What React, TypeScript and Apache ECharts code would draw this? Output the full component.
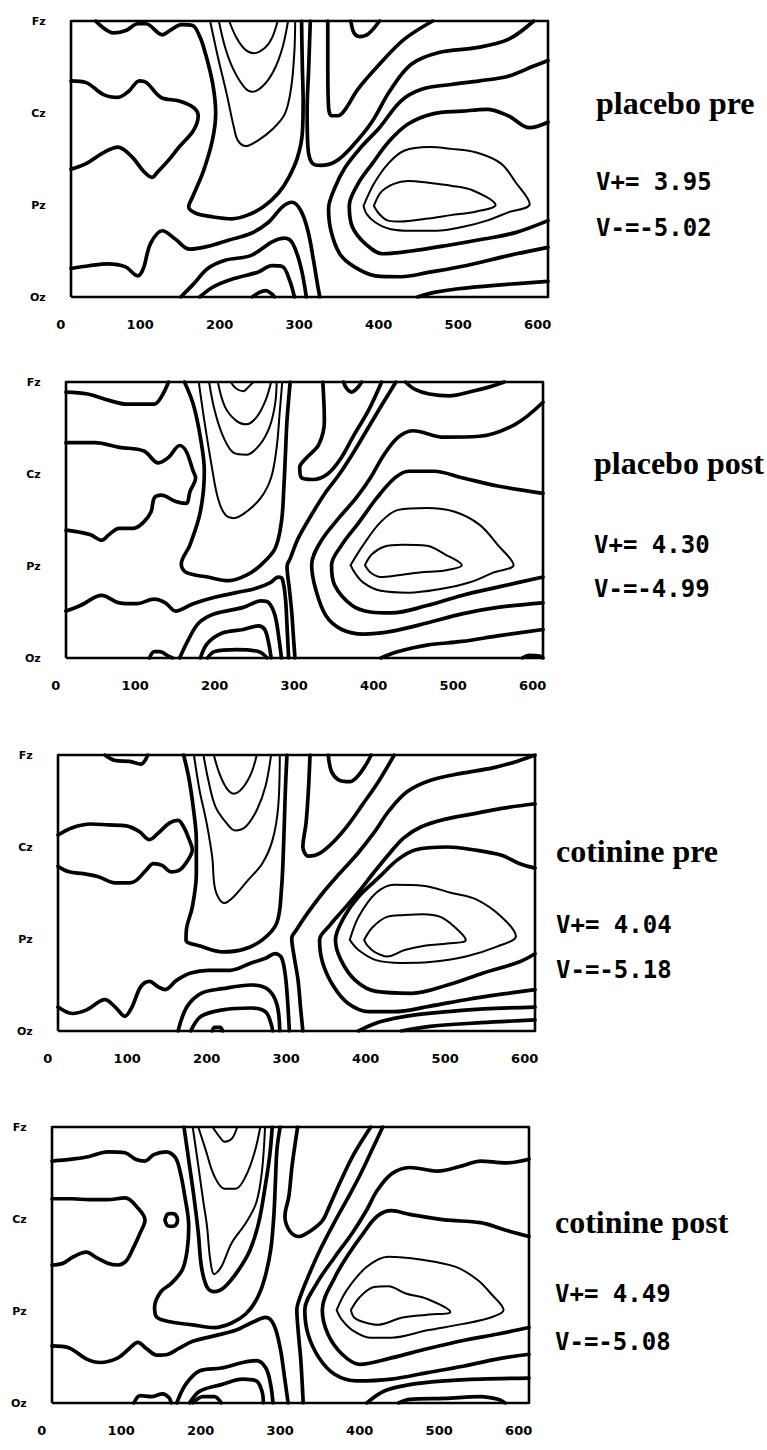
import React, { useEffect, useRef } from "react";
import * as echarts from "echarts";

type Pt = [number, number];

// ---- axes / labels ----
const X_TICKS = [0, 100, 200, 300, 400, 500, 600];
const ELECTRODES = ["Oz", "Pz", "Cz", "Fz"];
const EPOCH: [number, number] = [13, 613]; // ms covered by the map
const CONDITIONS = ["placebo pre", "placebo post", "cotinine pre", "cotinine post"];
const V_PLUS = [3.95, 4.3, 4.04, 4.49];
const V_MINUS = [-5.02, -4.99, -5.18, -5.08];

// ---- contour lines: [ms, electrode position (Oz=0 .. Fz=3)] ----
const placeboPreThick: Pt[][] = [
  [[44,3],[67,2.87],[83,2.9],[97,2.97],[107,2.97],[128,2.85],[138,2.9],[152,2.96],[166,2.95],[175,2.83],[181,2.68],[191,2.33],[195,2.0],[191,1.71],[180,1.38],[166,1.09],[161,0.98],[170,0.91],[192,0.87],[215,0.85],[235,0.89],[255,0.98],[274,1.13],[287,1.3],[298,1.52],[304,1.78],[305,2.14],[304,2.5],[303,3]],
  [[314,3],[312,2.49],[310,2.02],[311,1.63],[316,1.46],[327,1.43],[347,1.48],[369,1.66],[392,1.91],[414,2.24],[441,2.53],[477,2.66],[523,2.71],[563,2.8],[595,3]],
  [[336,3],[336,2.49],[337,2.06],[341,1.97],[349,1.97],[358,2.04],[374,2.26],[401,2.53],[432,2.8],[468,3]],
  [[365,3],[369,2.87],[376,2.83],[387,2.86],[401,3]],
  [[613,2.57],[595,2.51],[563,2.4],[527,2.35],[491,2.31],[455,2.26],[428,2.13],[401,1.84],[378,1.63],[358,1.41],[345,1.19],[337,0.96],[340,0.72],[351,0.47],[369,0.33],[396,0.23],[428,0.22],[464,0.27],[509,0.34],[563,0.45],[613,0.54]],
  [[613,1.9],[590,1.84],[563,1.97],[536,2.04],[505,2.02],[468,1.99],[437,1.88],[414,1.7],[392,1.45],[374,1.23],[363,0.99],[367,0.76],[383,0.58],[405,0.47],[441,0.5],[486,0.56],[532,0.63],[572,0.7],[613,0.83]],
  [[449,0],[470,0.05],[500,0.09],[550,0.13],[613,0.17]],
  [[13,2.35],[32,2.33],[54,2.2],[72,2.17],[86,2.24],[99,2.35],[108,2.33],[126,2.17],[149,2.13],[167,2.06],[173,1.97],[167,1.81],[149,1.63],[135,1.48],[122,1.36],[115,1.3],[104,1.37],[90,1.52],[72,1.63],[54,1.57],[32,1.45],[13,1.39]],
  [[13,0.31],[36,0.34],[59,0.36],[81,0.33],[97,0.23],[104,0.31],[113,0.58],[128,0.72],[144,0.63],[162,0.52],[185,0.55],[212,0.62],[239,0.69],[261,0.81],[279,0.98],[291,1.03],[302,0.94],[311,0.72],[318,0.4],[323,0.14],[326,0]],
  [[151,0],[167,0.14],[185,0.31],[207,0.4],[239,0.45],[266,0.6],[282,0.64],[292,0.58],[302,0.33],[309,0]],
  [[175,0],[192,0.11],[218,0.2],[248,0.27],[266,0.34],[279,0.33],[288,0.18],[294,0]],
  [[241,0],[250,0.05],[258,0.07],[266,0.03],[269,0]],
];
const placeboPreThin: Pt[][] = [
  [[212,3],[221,2.82],[232,2.69],[243,2.65],[257,2.71],[266,2.82],[273,3]],
  [[199,3],[207,2.71],[218,2.46],[232,2.27],[241,2.23],[254,2.29],[268,2.46],[279,2.71],[286,3]],
  [[188,3],[198,2.6],[209,2.2],[218,1.84],[223,1.7],[233,1.64],[248,1.7],[266,1.82],[282,1.99],[290,2.28],[294,2.67],[295,3]],
  [[381,0.99],[394,1.23],[412,1.45],[432,1.59],[464,1.63],[491,1.61],[523,1.57],[554,1.45],[572,1.25],[590,1.01],[563,0.92],[536,0.83],[505,0.76],[473,0.72],[441,0.72],[414,0.74],[396,0.81],[385,0.9],[381,0.99]],
  [[394,0.99],[403,1.14],[419,1.23],[437,1.26],[464,1.24],[491,1.21],[518,1.16],[547,1.0],[523,0.93],[491,0.89],[459,0.85],[428,0.82],[412,0.83],[401,0.9],[394,0.99]],
];

const placeboPostThick: Pt[][] = [
  [[13,2.89],[40,2.87],[67,2.8],[89,2.76],[124,2.76],[133,2.84],[142,3]],
  [[13,2.34],[49,2.34],[80,2.29],[111,2.25],[129,2.12],[142,2.18],[156,2.31],[164,2.25],[173,2.03],[176,1.96],[169,1.81],[164,1.68],[151,1.7],[133,1.77],[124,1.74],[120,1.59],[111,1.48],[98,1.41],[80,1.41],[67,1.34],[58,1.28],[44,1.34],[29,1.37],[13,1.39]],
  [[13,0.51],[31,0.57],[58,0.68],[80,0.6],[102,0.59],[124,0.64],[138,0.6],[151,0.51],[173,0.59],[200,0.66],[227,0.71],[253,0.76],[270,0.82],[280,0.88],[285,0.86],[289,0.65],[291,0.35],[293,0]],
  [[156,0],[167,0.2],[180,0.38],[200,0.48],[236,0.55],[258,0.62],[268,0.6],[276,0.46],[281,0.2],[284,0]],
  [[182,0],[191,0.16],[209,0.27],[236,0.31],[255,0.35],[263,0.31],[268,0.16],[271,0]],
  [[191,0],[200,0.07],[227,0.09],[255,0.07],[266,0]],
  [[118,0],[124,0.07],[131,0.07],[142,0.02],[147,0]],
  [[587,0],[596,0.03],[609,0.02],[613,0]],
  [[162,3],[173,2.76],[182,2.4],[187,2.03],[182,1.59],[169,1.23],[158,1.02],[164,0.93],[191,0.88],[218,0.84],[240,0.9],[258,1.01],[276,1.19],[284,1.48],[287,1.85],[289,2.21],[291,2.58],[295,3]],
  [[362,3],[366,2.93],[372,2.89],[379,2.93],[385,3]],
  [[336,3],[338,2.58],[331,2.32],[316,2.18],[307,2.07],[309,1.96],[324,1.94],[342,2.0],[358,2.16],[375,2.42],[394,2.7],[410,3]],
  [[428,3],[411,2.76],[393,2.5],[375,2.24],[357,2.0],[338,1.78],[320,1.53],[305,1.3],[295,1.08],[291,1.0],[294,0.75],[297,0.49],[299,0.24],[301,0]],
  [[440,3],[452,2.92],[470,2.87],[495,2.85],[524,2.9],[547,2.95],[564,3]],
  [[613,2.78],[578,2.54],[533,2.41],[489,2.4],[449,2.47],[431,2.4],[413,2.21],[396,1.96],[378,1.74],[356,1.52],[333,1.26],[322,1.01],[327,0.75],[340,0.46],[360,0.31],[387,0.26],[422,0.29],[467,0.38],[511,0.48],[556,0.55],[613,0.6]],
  [[613,1.79],[556,1.87],[511,1.96],[476,2.03],[444,2.03],[427,1.96],[404,1.74],[382,1.48],[360,1.23],[347,1.01],[351,0.79],[373,0.57],[396,0.5],[422,0.49],[467,0.57],[511,0.68],[556,0.77],[613,0.88]],
  [[409,0],[431,0.07],[467,0.14],[511,0.18],[556,0.24],[613,0.31]],
];
const placeboPostThin: Pt[][] = [
  [[180,3],[187,2.58],[196,2.1],[204,1.74],[213,1.56],[224,1.52],[240,1.59],[258,1.74],[271,1.96],[278,2.29],[282,2.69],[285,3]],
  [[193,3],[200,2.69],[211,2.4],[224,2.23],[240,2.21],[256,2.31],[269,2.51],[276,2.76],[278,3]],
  [[204,3],[213,2.73],[227,2.58],[240,2.54],[253,2.62],[264,2.8],[271,3]],
  [[220,3],[227,2.93],[236,2.9],[244,2.96],[249,3]],
  [[371,1.01],[387,1.23],[409,1.48],[431,1.61],[467,1.63],[502,1.59],[533,1.45],[556,1.23],[576,1.01],[551,0.93],[520,0.82],[484,0.75],[444,0.71],[409,0.73],[387,0.82],[376,0.93],[371,1.01]],
  [[389,1.01],[398,1.13],[413,1.21],[436,1.23],[467,1.22],[489,1.13],[511,1.01],[489,0.95],[458,0.93],[431,0.9],[409,0.88],[396,0.93],[389,1.01]],
];

const cotininePreThick: Pt[][] = [
  [[72,3],[85,2.94],[103,2.93],[117,2.9],[126,3]],
  [[13,2.13],[31,2.21],[54,2.25],[76,2.24],[99,2.23],[115,2.17],[128,2.08],[139,2.15],[153,2.26],[164,2.29],[171,2.22],[178,2.08],[182,1.97],[175,1.84],[166,1.75],[155,1.73],[144,1.8],[133,1.82],[124,1.75],[112,1.64],[103,1.61],[85,1.61],[63,1.68],[45,1.71],[27,1.73],[13,1.79]],
  [[13,0.26],[31,0.19],[49,0.23],[72,0.34],[85,0.26],[97,0.16],[106,0.26],[117,0.48],[128,0.54],[139,0.48],[148,0.45],[162,0.55],[180,0.63],[202,0.66],[229,0.66],[256,0.74],[274,0.79],[286,0.84],[294,0.8],[299,0.6],[302,0.3],[304,0]],
  [[164,0],[175,0.26],[193,0.41],[220,0.46],[256,0.5],[276,0.46],[288,0.3],[292,0]],
  [[180,0],[193,0.16],[220,0.23],[256,0.25],[274,0.21],[281,0.08],[283,0]],
  [[207,0],[210,0.04],[217,0.04],[220,0]],
  [[171,3],[178,2.73],[184,2.37],[187,2.08],[187,1.71],[182,1.35],[175,1.13],[174,0.99],[193,0.92],[220,0.86],[247,0.89],[270,0.99],[288,1.17],[294,1.53],[297,2.08],[299,2.62],[301,3]],
  [[353,3],[357,2.82],[366,2.73],[380,2.71],[391,2.78],[400,2.89],[407,3]],
  [[330,3],[328,2.62],[325,2.26],[321,2.0],[328,1.9],[342,1.93],[360,2.06],[378,2.24],[396,2.46],[416,2.71],[436,3]],
  [[613,3],[590,2.93],[560,2.86],[520,2.8],[480,2.72],[452,2.6],[430,2.4],[410,2.15],[390,1.93],[368,1.72],[346,1.5],[326,1.27],[313,1.1],[307,1.01],[310,0.81],[315,0.55],[318,0.26],[321,0]],
  [[613,2.47],[571,2.42],[535,2.36],[499,2.3],[470,2.22],[448,2.1],[430,1.93],[410,1.72],[390,1.5],[370,1.3],[355,1.15],[342,0.99],[346,0.74],[360,0.48],[378,0.3],[404,0.21],[436,0.21],[481,0.27],[526,0.34],[571,0.4],[613,0.45]],
  [[613,1.77],[593,1.82],[571,1.91],[535,1.97],[503,2.0],[463,1.97],[440,1.86],[418,1.68],[391,1.46],[373,1.24],[362,0.99],[369,0.77],[387,0.55],[413,0.43],[458,0.41],[503,0.5],[548,0.63],[593,0.75],[613,0.84]],
  [[391,0],[418,0.1],[458,0.17],[503,0.21],[548,0.24],[613,0.26]],
  [[445,0],[481,0.05],[545,0.09],[613,0.12]],
];
const cotininePreThin: Pt[][] = [
  [[184,3],[191,2.62],[200,2.26],[207,1.89],[211,1.53],[222,1.39],[234,1.46],[252,1.64],[270,1.82],[283,2.08],[290,2.44],[292,3]],
  [[196,3],[202,2.73],[211,2.44],[225,2.26],[236,2.18],[249,2.22],[263,2.4],[274,2.66],[281,3]],
  [[209,3],[216,2.8],[225,2.64],[234,2.58],[245,2.64],[256,2.8],[263,3]],
  [[380,0.99],[391,1.24],[413,1.5],[436,1.59],[472,1.58],[508,1.5],[539,1.43],[571,1.24],[589,1.03],[566,0.92],[526,0.81],[481,0.75],[445,0.74],[413,0.77],[391,0.88],[380,0.99]],
  [[398,0.99],[409,1.13],[427,1.24],[449,1.26],[472,1.27],[494,1.24],[512,1.13],[526,0.99],[503,0.95],[476,0.93],[449,0.88],[427,0.81],[411,0.86],[402,0.93],[398,0.99]],
];

const cotininePostThick: Pt[][] = [
  [[13,2.63],[38,2.65],[60,2.68],[83,2.73],[105,2.72],[118,2.65],[130,2.63],[141,2.7],[156,2.73],[168,2.67],[174,2.52],[180,2.25],[185,1.92],[183,1.66],[177,1.45],[163,1.3],[150,1.21],[142,1.04],[145,0.93],[163,0.88],[190,0.85],[217,0.82],[239,0.87],[257,0.97],[270,1.12],[280,1.34],[288,1.66],[292,2.03],[294,2.4],[296,2.76],[300,3]],
  [[13,2.22],[38,2.22],[60,2.21],[83,2.21],[105,2.23],[121,2.12],[130,1.99],[124,1.85],[115,1.68],[106,1.54],[96,1.5],[83,1.52],[69,1.58],[56,1.64],[40,1.59],[27,1.52],[13,1.5]],
  [[155,1.99],[158,2.05],[163,2.06],[168,2.05],[171,1.99],[168,1.93],[163,1.92],[158,1.93],[155,1.99]],
  [[13,0.62],[34,0.6],[56,0.48],[74,0.44],[96,0.49],[110,0.59],[121,0.66],[132,0.59],[145,0.52],[159,0.53],[172,0.59],[190,0.67],[217,0.73],[244,0.79],[266,0.88],[282,0.93],[292,0.85],[300,0.6],[305,0.31],[310,0]],
  [[170,0],[181,0.2],[199,0.35],[226,0.38],[253,0.44],[270,0.46],[282,0.38],[288,0.2],[291,0]],
  [[186,0],[199,0.13],[226,0.2],[253,0.26],[270,0.24],[277,0.13],[279,0]],
  [[190,0],[203,0.07],[217,0.07],[226,0]],
  [[116,0],[124,0.08],[138,0.07],[152,0.1],[160,0.06],[163,0]],
  [[179,3],[186,2.58],[192,2.21],[197,1.85],[201,1.48],[208,1.26],[217,1.21],[230,1.26],[248,1.45],[262,1.66],[273,1.96],[282,2.4],[287,2.7],[290,3]],
  [[322,3],[315,2.58],[311,2.25],[306,2.03],[312,1.87],[324,1.81],[338,1.87],[353,1.98],[362,2.14],[376,2.41],[393,2.71],[414,3]],
  [[429,3],[416,2.76],[400,2.47],[384,2.21],[368,1.96],[350,1.66],[335,1.37],[325,1.15],[321,1.01],[323,0.75],[326,0.46],[329,0]],
  [[613,2.65],[583,2.61],[552,2.63],[530,2.58],[498,2.52],[463,2.56],[440,2.49],[422,2.31],[409,2.1],[391,1.85],[369,1.59],[346,1.3],[331,1.01],[335,0.75],[349,0.49],[369,0.31],[396,0.24],[440,0.26],[485,0.33],[530,0.4],[574,0.48],[613,0.53]],
  [[613,1.81],[583,1.88],[552,1.96],[507,1.99],[463,2.05],[440,2.09],[422,2.03],[405,1.85],[387,1.63],[369,1.37],[353,1.01],[360,0.75],[378,0.53],[400,0.42],[440,0.49],[485,0.59],[530,0.68],[574,0.75],[613,0.82]],
  [[409,0],[431,0.13],[463,0.2],[507,0.24],[552,0.26],[613,0.27]],
  [[449,0],[463,0.04],[507,0.05],[552,0.07],[574,0.04],[583,0]],
];
const cotininePostThin: Pt[][] = [
  [[190,3],[197,2.58],[203,2.21],[208,1.92],[212,1.56],[217,1.4],[226,1.48],[239,1.74],[257,1.96],[270,2.18],[277,2.51],[281,3]],
  [[197,3],[206,2.76],[217,2.47],[230,2.33],[244,2.33],[257,2.47],[268,2.73],[275,3]],
  [[215,3],[224,2.89],[230,2.84],[239,2.87],[246,3]],
  [[371,1.01],[384,1.23],[409,1.48],[436,1.59],[476,1.56],[521,1.48],[548,1.34],[565,1.19],[581,1.01],[565,0.93],[530,0.86],[485,0.79],[440,0.71],[413,0.71],[391,0.79],[378,0.9],[371,1.01]],
  [[389,1.01],[400,1.15],[418,1.26],[436,1.27],[458,1.19],[485,1.13],[514,0.99],[485,0.96],[454,0.93],[422,0.85],[405,0.88],[393,0.93],[389,1.01]],
];

const PANEL_DATA = [
  { thick: placeboPreThick, thin: placeboPreThin },
  { thick: placeboPostThick, thin: placeboPostThin },
  { thick: cotininePreThick, thin: cotininePreThin },
  { thick: cotininePostThick, thin: cotininePostThin },
];

// ---- layout (pixels) ----
const BOX_W = 477;
const BOX_H = 276;
const LAYOUT = [
  { left: 71, top: 21, textX: 596, titleY: 103, vpY: 182, vmY: 228 },
  { left: 66, top: 382, textX: 594, titleY: 463, vpY: 545, vmY: 589 },
  { left: 58, top: 755, textX: 556, titleY: 851, vpY: 925, vmY: 970 },
  { left: 52, top: 1127, textX: 555, titleY: 1222, vpY: 1294, vmY: 1342 },
];

function buildOption() {
  const pxPerMs = BOX_W / (EPOCH[1] - EPOCH[0]);
  const yMax = ELECTRODES.length - 1;
  const grid: any[] = [];
  const xAxis: any[] = [];
  const yAxis: any[] = [];
  const series: any[] = [];
  const graphic: any[] = [];

  LAYOUT.forEach((L, i) => {
    grid.push({
      left: L.left - EPOCH[0] * pxPerMs,
      top: L.top,
      width: BOX_W + EPOCH[0] * pxPerMs,
      height: BOX_H,
      containLabel: false,
    });
    xAxis.push({
      type: "value",
      gridIndex: i,
      min: 0,
      max: EPOCH[1],
      interval: 100,
      axisLine: { show: false },
      axisTick: { show: false },
      splitLine: { show: false },
      axisLabel: {
        showMaxLabel: false,
        margin: 21,
        color: "#000",
        fontSize: 13,
        fontWeight: "bold",
        fontFamily: "DejaVu Sans",
        formatter: (v: number) => (X_TICKS.includes(v) ? String(v) : ""),
      },
    });
    yAxis.push({
      type: "value",
      gridIndex: i,
      min: 0,
      max: yMax,
      interval: 1,
      axisLine: { show: false },
      axisTick: { show: false },
      splitLine: { show: false },
      axisLabel: {
        margin: 15,
        color: "#000",
        fontSize: 11,
        fontWeight: "bold",
        fontFamily: "DejaVu Sans",
        padding: [8, 0, 0, 0],
        formatter: (v: number) => ELECTRODES[v] ?? "",
      },
    });
    // frame of the map
    series.push({
      type: "line",
      xAxisIndex: i,
      yAxisIndex: i,
      data: [
        [EPOCH[0], 0],
        [EPOCH[1], 0],
        [EPOCH[1], yMax],
        [EPOCH[0], yMax],
        [EPOCH[0], 0],
      ],
      symbol: "none",
      clip: false,
      silent: true,
      lineStyle: { color: "#000", width: 2.6, join: "round" },
      z: 3,
    });
    const D = PANEL_DATA[i];
    D.thick.forEach((pts) =>
      series.push({
        type: "line",
        xAxisIndex: i,
        yAxisIndex: i,
        data: pts,
        symbol: "none",
        smooth: 0.35,
        clip: true,
        silent: true,
        lineStyle: { color: "#000", width: 3.7, cap: "round", join: "round" },
        z: 2,
      })
    );
    D.thin.forEach((pts) =>
      series.push({
        type: "line",
        xAxisIndex: i,
        yAxisIndex: i,
        data: pts,
        symbol: "none",
        smooth: 0.35,
        clip: true,
        silent: true,
        lineStyle: { color: "#000", width: 2, cap: "round", join: "round" },
        z: 2,
      })
    );

    graphic.push(
      {
        type: "text",
        x: L.textX,
        y: L.titleY,
        style: {
          text: CONDITIONS[i],
          font: 'bold 32px "Liberation Serif", "DejaVu Serif", serif',
          fill: "#000",
          verticalAlign: "middle",
          textVerticalAlign: "middle",
        },
      },
      {
        type: "text",
        x: L.textX,
        y: L.vpY,
        style: {
          text: "V+= " + V_PLUS[i].toFixed(2),
          font: 'bold 24px "DejaVu Sans Mono", monospace',
          fill: "#000",
          verticalAlign: "middle",
          textVerticalAlign: "middle",
        },
      },
      {
        type: "text",
        x: L.textX,
        y: L.vmY,
        style: {
          text: "V-=" + V_MINUS[i].toFixed(2),
          font: 'bold 24px "DejaVu Sans Mono", monospace',
          fill: "#000",
          verticalAlign: "middle",
          textVerticalAlign: "middle",
        },
      }
    );
  });

  return {
    animation: false,
    backgroundColor: "#fff",
    grid,
    xAxis,
    yAxis,
    series,
    graphic,
  };
}

export default function App() {
  const ref = useRef<HTMLDivElement>(null);
  useEffect(() => {
    if (!ref.current) return;
    const chart = echarts.init(ref.current, null, { renderer: "svg" });
    chart.setOption(buildOption() as any);
    return () => chart.dispose();
  }, []);
  return (
    <div
      ref={ref}
      style={{ position: "absolute", left: 0, top: 0, width: 767, height: 1450, background: "#fff" }}
    />
  );
}
